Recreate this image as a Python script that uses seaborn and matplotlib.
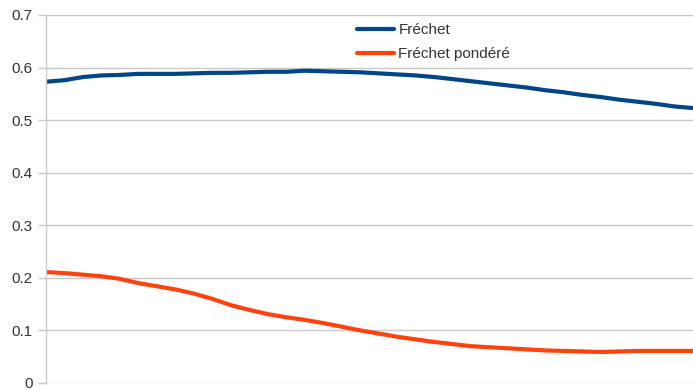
import pandas as pd
import seaborn as sns
import matplotlib.pyplot as plt

# values, evenly spaced samples along x
frechet = [0.573, 0.576, 0.582, 0.585, 0.586, 0.588, 0.588, 0.588, 0.589, 0.590,
           0.590, 0.591, 0.592, 0.592, 0.594, 0.593, 0.592, 0.591, 0.589, 0.587,
           0.585, 0.582, 0.578, 0.574, 0.570, 0.566, 0.562, 0.557, 0.553, 0.548,
           0.544, 0.539, 0.535, 0.531, 0.526, 0.523]
frechet_pondere = [0.211, 0.209, 0.206, 0.203, 0.198, 0.190, 0.184, 0.178, 0.170, 0.160,
                   0.148, 0.139, 0.131, 0.125, 0.120, 0.114, 0.107, 0.100, 0.094, 0.088,
                   0.083, 0.078, 0.074, 0.070, 0.068, 0.066, 0.064, 0.062, 0.061, 0.060,
                   0.059, 0.060, 0.061, 0.061, 0.061, 0.061]
labels = ["Fréchet", "Fréchet pondéré"]
colors = ["#004586", "#ff420e"]

n = len(frechet)
df = pd.DataFrame({
    "x": list(range(n)) * 2,
    "valeur": frechet + frechet_pondere,
    "serie": [labels[0]] * n + [labels[1]] * n,
})

sns.set_theme(style="white")
plt.rcParams["font.family"] = ["Liberation Sans", "DejaVu Sans"]

fig = plt.figure(figsize=(6.93, 3.90), dpi=100)
ax = fig.add_axes([46 / 693, 7 / 390, 1 - 46 / 693, 368 / 390])
sns.lineplot(data=df, x="x", y="valeur", hue="serie", palette=colors, linewidth=3, ax=ax)

ax.set_xlim(0, n - 1)
ax.set_ylim(0, 0.7)
ax.set_yticks([0, 0.1, 0.2, 0.3, 0.4, 0.5, 0.6, 0.7])
ax.set_yticklabels(["0", "0.1", "0.2", "0.3", "0.4", "0.5", "0.6", "0.7"])
ax.set_xticks([])
ax.set_xlabel("")
ax.set_ylabel("")
ax.grid(axis="y", color="#c8c8c8", linewidth=1)
ax.set_axisbelow(True)
ax.tick_params(axis="y", length=6, width=1, color="#c8c8c8", pad=3.5, labelsize=11, labelcolor="#333333", left=True)
for side in ["top", "right", "bottom"]:
    ax.spines[side].set_visible(False)
ax.spines["left"].set_color("#c8c8c8")
ax.spines["left"].set_linewidth(1)

leg = ax.legend(loc="upper left", bbox_to_anchor=(0.481, 0.978), frameon=False, fontsize=11,
                borderaxespad=0, borderpad=0,
                handlelength=2.4, handletextpad=0.3, labelspacing=0.65)
for t in leg.get_texts():
    t.set_color("#333333")

fig.savefig("out.png", dpi=100)
